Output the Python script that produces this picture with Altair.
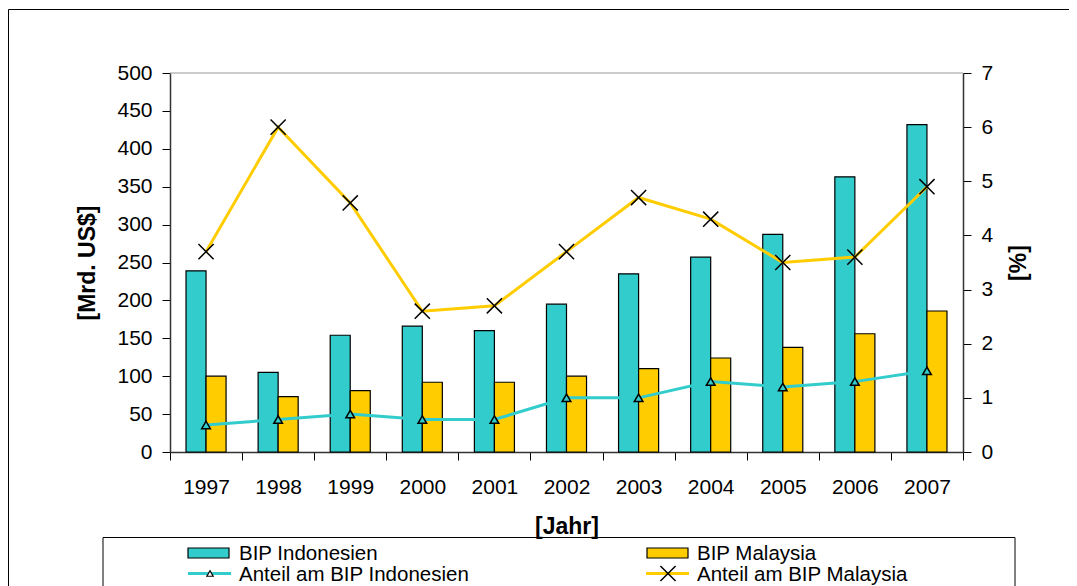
import altair as alt
import pandas as pd

years = ["1997", "1998", "1999", "2000", "2001", "2002", "2003", "2004", "2005", "2006", "2007"]
bip_indonesien = [239, 105, 154, 166, 160, 195, 235, 257, 287, 363, 432]
bip_malaysia = [100, 73, 81, 92, 92, 100, 110, 124, 138, 156, 186]
anteil_indonesien = [0.5, 0.6, 0.7, 0.6, 0.6, 1.0, 1.0, 1.3, 1.2, 1.3, 1.5]
anteil_malaysia = [3.7, 6.0, 4.6, 2.6, 2.7, 3.7, 4.7, 4.3, 3.5, 3.6, 4.9]

bar_series = ["BIP Indonesien", "BIP Malaysia"]
line_series = ["Anteil am BIP Indonesien", "Anteil am BIP Malaysia"]

CYAN = "#33CCCC"
YELLOW = "#FFCC00"
FONT = "Liberation Sans"
W, H = 793, 379

df_bars = pd.DataFrame({
    "Jahr": years * 2,
    "Serie": [bar_series[0]] * len(years) + [bar_series[1]] * len(years),
    "Wert": bip_indonesien + bip_malaysia,
})
df_ind = pd.DataFrame({"Jahr": years, "Anteil": anteil_indonesien})
df_mal = pd.DataFrame({"Jahr": years, "Anteil": anteil_malaysia})
one = pd.DataFrame({"k": [0]})

x_enc = alt.X(
    "Jahr:N", sort=years,
    scale=alt.Scale(paddingInner=0, paddingOuter=0),
    axis=alt.Axis(title="[Jahr]", labelAngle=0, tickBand="extent", tickSize=8,
                  labelPadding=16, titlePadding=18, labelFontSize=21,
                  titleFontSize=23, titleFontWeight="bold"),
)

bars = alt.Chart(df_bars).mark_bar(stroke="black", strokeWidth=1.2).encode(
    x=x_enc,
    xOffset=alt.XOffset("Serie:N", sort=bar_series,
                        scale=alt.Scale(paddingInner=0, paddingOuter=0.8)),
    y=alt.Y("Wert:Q", scale=alt.Scale(domain=[0, 500], nice=False),
            axis=alt.Axis(title="[Mrd. US$]", values=list(range(0, 501, 50)),
                          grid=False, tickSize=8, labelPadding=10, titlePadding=17,
                          labelFontSize=21, titleFontSize=23, titleFontWeight="bold",
                          orient="left")),
    color=alt.Color("Serie:N", scale=alt.Scale(domain=bar_series, range=[CYAN, YELLOW]),
                    legend=None),
)

y_right = alt.Y("Anteil:Q", scale=alt.Scale(domain=[0, 7], nice=False),
                axis=alt.Axis(title="[%]", orient="right", values=list(range(0, 8)),
                              grid=False, tickSize=8, labelPadding=10,
                              labelFontSize=21, titleFontSize=23, titleFontWeight="bold",
                              titleAngle=270, titleX=55, titleY=H / 2,
                              titleAlign="center", titleBaseline="middle"))
x_line = alt.X("Jahr:N", sort=years)

line_i = alt.Chart(df_ind).mark_line(color=CYAN, strokeWidth=3).encode(x=x_line, y=y_right)
line_m = alt.Chart(df_mal).mark_line(color=YELLOW, strokeWidth=3).encode(x=x_line, y=y_right)
pt_i = alt.Chart(df_ind).mark_point(shape="triangle-up", filled=True, fill=CYAN,
                                    stroke="black", strokeWidth=1.5, size=75,
                                    opacity=1).encode(x=x_line, y=y_right)
XPATH = "M-1,-1L1,1M-1,1L1,-1"
pt_m = alt.Chart(df_mal).mark_point(shape=XPATH, filled=False, stroke="black",
                                    strokeWidth=1.5, size=230,
                                    opacity=1).encode(x=x_line, y=y_right)
lines = alt.layer(line_i, line_m, pt_i, pt_m)


def hrule(x0, x1, y0, color="black", width=1):
    return alt.Chart(one).mark_rule(color=color, strokeWidth=width).encode(
        x=alt.value(x0), x2=alt.value(x1), y=alt.value(y0))


def vrule(x0, y0, y1, color="black", width=1):
    return alt.Chart(one).mark_rule(color=color, strokeWidth=width).encode(
        x=alt.value(x0), y=alt.value(y0), y2=alt.value(y1))


# decorations: outer chart border (top/left), plot-area top border, legend box
decor = [
    hrule(-161.5, 1000, -63.5),
    vrule(-161.5, -63.5, 600),
    hrule(0, W, 0, color="#999999"),
    hrule(-67, 845, 464.5),
    vrule(-67, 464.5, 600),
    vrule(845, 464.5, 600),
]


def swatch(x0, color):
    return alt.Chart(one).mark_rect(fill=color, stroke="black", strokeWidth=1.2).encode(
        x=alt.value(x0), x2=alt.value(x0 + 41), y=alt.value(475), y2=alt.value(485))


def legline(x0, color):
    return alt.Chart(one).mark_rule(color=color, strokeWidth=3).encode(
        x=alt.value(x0), x2=alt.value(x0 + 43), y=alt.value(500.5))


def legtext(x0, y0, txt):
    return alt.Chart(one).mark_text(align="left", baseline="middle", fontSize=20.5,
                                    font=FONT, color="black", text=txt).encode(
        x=alt.value(x0), y=alt.value(y0))


leg_tri = alt.Chart(one).mark_point(shape="triangle-up", filled=True, fill="white",
                                    stroke="black", strokeWidth=1.2, size=40,
                                    opacity=1).encode(x=alt.value(40), y=alt.value(500.5))
leg_x = alt.Chart(one).mark_point(shape=XPATH, filled=False, stroke="black",
                                  strokeWidth=1.5, size=230, opacity=1).encode(
    x=alt.value(498), y=alt.value(500.5))

legend_layers = [
    swatch(18, CYAN), legtext(69, 480.5, bar_series[0]),
    legline(18, CYAN), leg_tri, legtext(69, 501.5, line_series[0]),
    swatch(477, YELLOW), legtext(527, 480.5, bar_series[1]),
    legline(476, YELLOW), leg_x, legtext(527, 501.5, line_series[1]),
]

chart = alt.layer(*decor, bars, lines, *legend_layers).resolve_scale(
    y="independent"
).properties(
    width=W, height=H,
    autosize=alt.AutoSizeParams(type="none"),
    padding={"left": 162, "top": 65, "right": 106, "bottom": 134},
).configure(font=FONT).configure_axis(
    labelFont=FONT, titleFont=FONT, labelColor="black", titleColor="black",
    tickColor="black", domainColor="#333333", domainWidth=1.5, tickWidth=1,
).configure_view(stroke=None)

chart.save("out.html", embed_options={"renderer": "svg", "actions": False})
